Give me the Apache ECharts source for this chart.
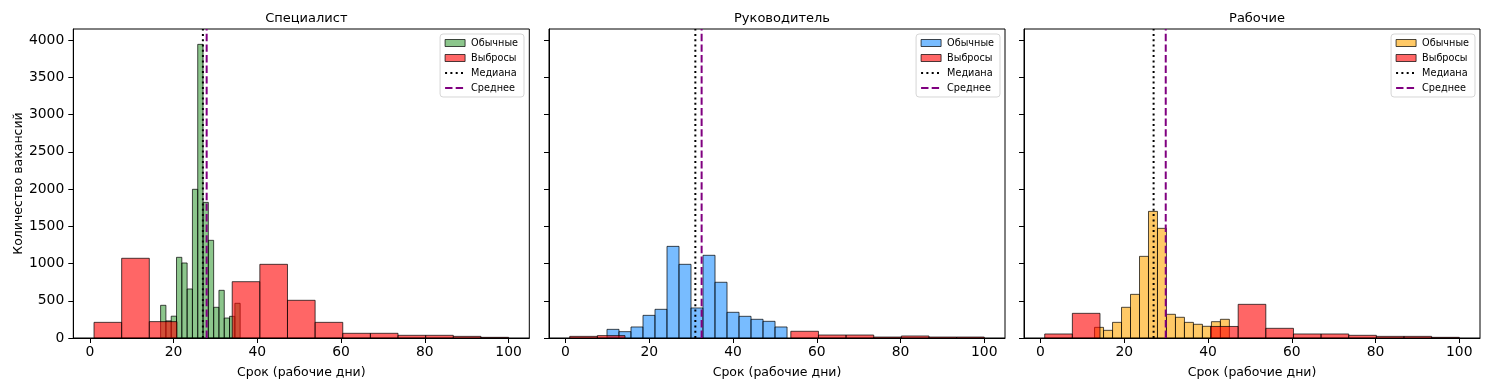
<!DOCTYPE html>
<html>
<head>
<meta charset="utf-8">
<script src="https://cdn.jsdelivr.net/npm/echarts@6/dist/echarts.min.js"></script>
<style>
html,body{margin:0;padding:0;background:#fff;}
#chart{width:1489px;height:390px;}
</style>
</head>
<body>
<div id="chart"></div>
<script>
// ---- data ----
const panelTitles = ['Специалист', 'Руководитель', 'Рабочие'];
const legendNames = ['Обычные', 'Выбросы', 'Медиана', 'Среднее'];
const xTickValues = [0, 20, 40, 60, 80, 100];
const yTickValues = [0, 500, 1000, 1500, 2000, 2500, 3000, 3500, 4000];

// normal-data histograms (15 bins each, range [lo, hi])
const normalRangeSpec = [16.9, 35.9];
const normalCountsSpec = [439, 230, 293, 1083, 1007, 658, 1996, 3942, 1821, 1311, 412, 640, 268, 291, 466];
const normalRangeMgr = [9.9, 52.9];
const normalCountsMgr = [116, 85, 148, 304, 385, 1230, 989, 403, 1110, 748, 345, 291, 251, 224, 148];
const normalRangeWork = [12.9, 45.1];
const normalCountsWork = [143, 103, 210, 412, 586, 1096, 1700, 1472, 318, 278, 210, 184, 157, 219, 251];

// outlier histograms (15 bins over [1, 100])
const outlierRange = [1, 100];
const outlierCountsSpec = [210, 1070, 220, 0, 0, 756, 989, 506, 210, 63, 63, 36, 36, 22, 9];
const outlierCountsMgr = [22, 32, 0, 0, 0, 0, 0, 0, 90, 40, 40, 13, 27, 13, 13];
const outlierCountsWork = [54, 331, 0, 0, 0, 0, 155, 452, 130, 54, 54, 36, 22, 22, 9];

const medians = [27.0, 31.0, 27.0];
const means = [27.9, 32.5, 29.9];

// ---- styling ----
const FONT = 'DejaVu Sans';
const normalColors = ['rgba(0,128,0,0.45)', 'rgba(30,144,255,0.6)', 'rgba(255,165,0,0.6)'];
const outlierColor = 'rgba(255,0,0,0.6)';
const edgeColor = 'rgba(0,0,0,0.7)';
const X_MIN = -3.95, X_MAX = 104.95, Y_MAX = 4148;
const gridLefts = [73.3, 549, 1024];
const GRID_W = 456, GRID_TOP = 29, GRID_H = 309;
const legendRights = [965, 489, 14];

function bins(range, counts) {
  const w = (range[1] - range[0]) / counts.length;
  return counts.map((c, i) => [range[0] + i * w, range[0] + (i + 1) * w, c]).filter(d => d[2] > 0);
}

const normals = [
  bins(normalRangeSpec, normalCountsSpec),
  bins(normalRangeMgr, normalCountsMgr),
  bins(normalRangeWork, normalCountsWork)
];
const outliers = [
  bins(outlierRange, outlierCountsSpec),
  bins(outlierRange, outlierCountsMgr),
  bins(outlierRange, outlierCountsWork)
];

function histRender(fill) {
  return function (params, api) {
    const p0 = api.coord([api.value(0), 0]);
    const p1 = api.coord([api.value(1), api.value(2)]);
    return {
      type: 'rect',
      shape: { x: p0[0], y: p1[1], width: p1[0] - p0[0], height: p0[1] - p1[1] },
      style: { fill: fill, stroke: edgeColor, lineWidth: 1 }
    };
  };
}

const grids = [], xAxes = [], yAxes = [], series = [], titles = [], legends = [];
for (let k = 0; k < 3; k++) {
  grids.push({ left: gridLefts[k], top: GRID_TOP, width: GRID_W, height: GRID_H,
    show: true, borderColor: '#000', borderWidth: 1, backgroundColor: 'transparent', containLabel: false });
  xAxes.push({
    type: 'value', gridIndex: k, min: X_MIN, max: X_MAX,
    name: 'Срок (рабочие дни)', nameLocation: 'middle', nameGap: 28,
    nameTextStyle: { fontFamily: FONT, fontSize: 12.5, color: '#000' },
    axisLine: { show: true, onZero: false, lineStyle: { color: '#000', width: 1 } },
    axisTick: { show: true, length: 5, lineStyle: { color: '#000', width: 1 }, customValues: xTickValues },
    axisLabel: { show: true, margin: 7, fontFamily: FONT, fontSize: 13.9, color: '#000', customValues: xTickValues,
      formatter: v => String(v) },
    splitLine: { show: false }
  });
  yAxes.push({
    type: 'value', gridIndex: k, min: 0, max: Y_MAX,
    name: k === 0 ? 'Количество вакансий' : '', nameLocation: 'middle', nameGap: 48,
    nameTextStyle: { fontFamily: FONT, fontSize: 12.5, color: '#000' },
    axisLine: { show: true, onZero: false, lineStyle: { color: '#000', width: 1 } },
    axisTick: { show: true, length: 5, lineStyle: { color: '#000', width: 1 }, customValues: yTickValues },
    axisLabel: { show: k === 0, margin: 9, fontFamily: FONT, fontSize: 13.9, color: '#000', customValues: yTickValues,
      formatter: v => String(v) },
    splitLine: { show: false }
  });
  titles.push({
    text: panelTitles[k], left: gridLefts[k] + GRID_W / 2, top: 7, textAlign: 'center',
    textStyle: { fontFamily: FONT, fontSize: 13, fontWeight: 'normal', color: '#000' }
  });
  const nm = legendNames.map(n => n + '|' + k);
  series.push({
    type: 'custom', name: nm[0], xAxisIndex: k, yAxisIndex: k,
    renderItem: histRender(normalColors[k]), data: normals[k],
    itemStyle: { color: normalColors[k], borderColor: edgeColor, borderWidth: 1 },
    encode: { x: [0, 1], y: 2 }, z: 2
  });
  series.push({
    type: 'custom', name: nm[1], xAxisIndex: k, yAxisIndex: k,
    renderItem: histRender(outlierColor), data: outliers[k],
    itemStyle: { color: outlierColor, borderColor: edgeColor, borderWidth: 1 },
    encode: { x: [0, 1], y: 2 }, z: 3
  });
  series.push({
    type: 'line', name: nm[2], xAxisIndex: k, yAxisIndex: k, symbol: 'none', silent: true,
    data: [[medians[k], 0], [medians[k], Y_MAX]],
    lineStyle: { color: '#000', width: 2, type: [2, 3.3] }, itemStyle: { color: '#000' }, z: 4, animation: false
  });
  series.push({
    type: 'line', name: nm[3], xAxisIndex: k, yAxisIndex: k, symbol: 'none', silent: true,
    data: [[means[k], 0], [means[k], Y_MAX]],
    lineStyle: { color: '#800080', width: 2, type: [7.4, 3.2] }, itemStyle: { color: '#800080' }, z: 5, animation: false
  });
  legends.push({
    orient: 'vertical', right: legendRights[k], top: 34,
    itemWidth: 20, itemHeight: 7, itemGap: 5,
    padding: [4, 6, 4, 4],
    backgroundColor: '#fff', borderColor: 'rgba(204,204,204,0.8)', borderWidth: 1, borderRadius: 3,
    textStyle: { fontFamily: FONT, fontSize: 9.7, color: '#000', padding: [0, 0, 0, 1] },
    formatter: n => n.split('|')[0],
    selectedMode: false,
    data: [
      { name: nm[0], icon: 'rect', itemStyle: { color: normalColors[k], borderColor: edgeColor, borderWidth: 1 } },
      { name: nm[1], icon: 'rect', itemStyle: { color: outlierColor, borderColor: edgeColor, borderWidth: 1 } },
      { name: nm[2], itemStyle: { opacity: 0 } },
      { name: nm[3], itemStyle: { opacity: 0 } }
    ]
  });
}

const chart = echarts.init(document.getElementById('chart'), null, { renderer: 'canvas' });
chart.setOption({
  animation: false,
  backgroundColor: '#fff',
  title: titles,
  grid: grids,
  xAxis: xAxes,
  yAxis: yAxes,
  legend: legends,
  series: series
});
</script>
</body>
</html>
